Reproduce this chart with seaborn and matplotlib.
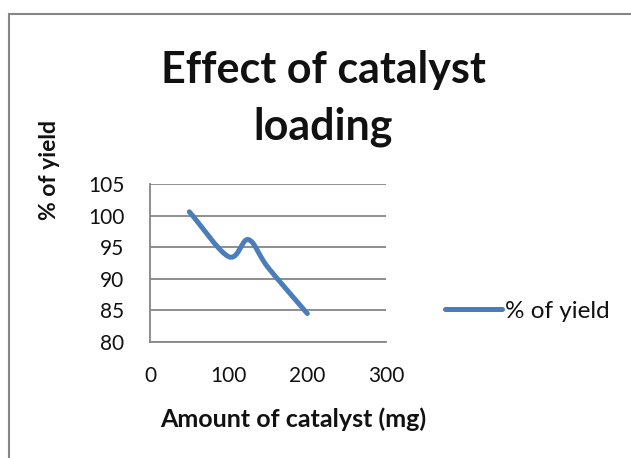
import numpy as np
import pandas as pd
import matplotlib
matplotlib.use("Agg")
import matplotlib.pyplot as plt
import seaborn as sns
from matplotlib.patches import Rectangle

# data
catalyst_mg = [50, 100, 125, 150, 200]
yield_pct = [100.6, 93.5, 96.2, 91.8, 84.5]
x_ticks = [0, 100, 200, 300]
y_ticks = [80, 85, 90, 95, 100, 105]

sns.set_style("white")
plt.rcParams['font.family'] = ['Lato', 'DejaVu Sans']

LINE_BLUE = "#4A7EBB"
GRID_GRAY = "#868686"


def smooth_line(xs, ys, n=40):
    # Excel style smoothed line (Catmull-Rom through the points)
    px = np.array(xs, dtype=float)
    py = np.array(ys, dtype=float)
    px = np.concatenate([[2 * px[0] - px[1]], px, [2 * px[-1] - px[-2]]])
    py = np.concatenate([[2 * py[0] - py[1]], py, [2 * py[-1] - py[-2]]])
    out_x, out_y = [], []
    t = np.linspace(0, 1, n)
    for i in range(1, len(px) - 2):
        for arr, out in ((px, out_x), (py, out_y)):
            p0, p1, p2, p3 = arr[i - 1], arr[i], arr[i + 1], arr[i + 2]
            seg = 0.5 * ((2 * p1) + (-p0 + p2) * t
                         + (2 * p0 - 5 * p1 + 4 * p2 - p3) * t ** 2
                         + (-p0 + 3 * p1 - 3 * p2 + p3) * t ** 3)
            out.extend(seg)
    return np.array(out_x), np.array(out_y)


sx, sy = smooth_line(catalyst_mg, yield_pct)
df = pd.DataFrame({"Amount of catalyst (mg)": sx, "% of yield": sy})

fig = plt.figure(figsize=(6.31, 4.58), dpi=100)
ax = fig.add_axes([0.2377, 0.2533, 0.374, 0.345])

sns.lineplot(data=df, x="Amount of catalyst (mg)", y="% of yield", sort=False,
             color=LINE_BLUE, linewidth=3.6, ax=ax, label="% of yield")

ax.set_xlim(0, 300)
ax.set_ylim(80, 105)
ax.set_xticks(x_ticks)
ax.set_yticks(y_ticks)
ax.tick_params(axis="both", labelsize=15, colors="#111111", length=6.5,
               width=1.3, color=GRID_GRAY, direction="out")
ax.tick_params(axis="x", pad=11)
ax.tick_params(axis="y", pad=12)
ax.yaxis.grid(True, color=GRID_GRAY, linewidth=1.3)
ax.xaxis.grid(False)
for side in ["top", "right"]:
    ax.spines[side].set_visible(False)
for side in ["left", "bottom"]:
    ax.spines[side].set_color(GRID_GRAY)
    ax.spines[side].set_linewidth(1.3)

ax.set_xlabel("")
ax.set_ylabel("")
fig.text(0.464, 0.085, "Amount of catalyst (mg)", fontsize=18,
         fontweight="bold", ha="center", va="center", color="#111111")
fig.text(0.079, 0.629, "% of yield", rotation=90, fontsize=16.5,
         fontweight="bold", ha="center", va="center", color="#111111")

fig.text(0.512, 0.785, "Effect of catalyst\nloading", fontsize=31,
         fontweight="bold", ha="center", va="center", linespacing=1.5,
         color="#111111")

leg = ax.legend(loc="center left", bbox_to_anchor=(445 / 631, 1 - 311 / 458),
                bbox_transform=fig.transFigure, frameon=False,
                borderaxespad=0, borderpad=0,
                fontsize=17.5, handlelength=2.35, handletextpad=0.12)
for t in leg.get_texts():
    t.set_color("#111111")

fig.patches.append(Rectangle((9 / 631, -0.1), 1.2, 1.1 - 14 / 458,
                             transform=fig.transFigure, fill=False,
                             edgecolor=GRID_GRAY, linewidth=1.5))

fig.savefig("out.png", dpi=100)
